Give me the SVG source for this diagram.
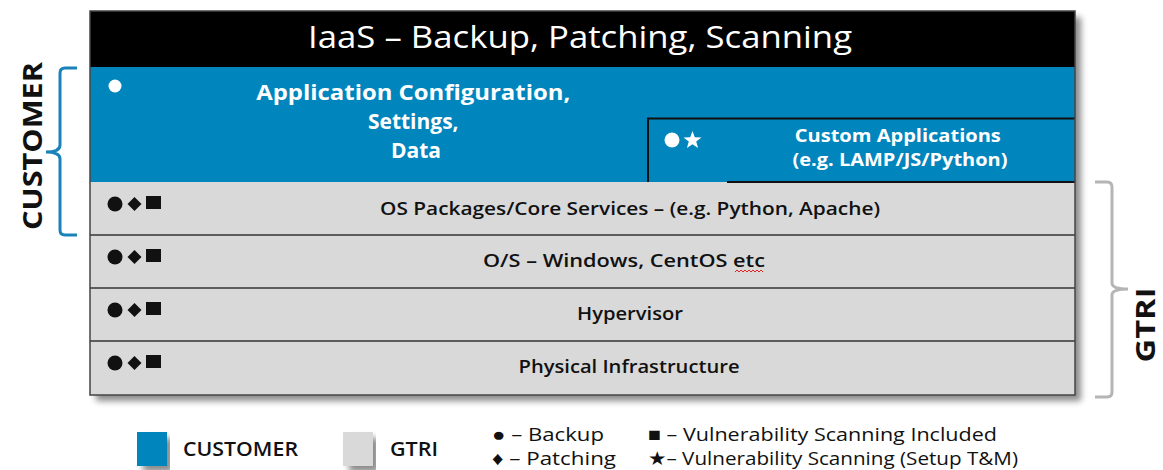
<svg xmlns="http://www.w3.org/2000/svg" width="1163" height="470" viewBox="0 0 1163 470">
<defs>
<filter id="sh" x="-5%" y="-5%" width="115%" height="120%">
<feDropShadow dx="6" dy="6" stdDeviation="3" flood-color="#000" flood-opacity="0.45"/>
</filter>
<style>
.t{font-family:"Open Sans","Liberation Sans",sans-serif;}
.w{fill:#fff;}
.k{fill:#111;}
.sep{stroke:#333;stroke-width:1.5;}
.sym{fill:#111;}
</style>
</defs>
<rect width="1163" height="470" fill="#fff"/>

<g id="stack">
<rect x="90" y="11" width="985" height="384" fill="#d9d9d9" filter="url(#sh)"/>
<rect x="90" y="11" width="985" height="56" fill="#000"/>
<rect x="90" y="67" width="985" height="115" fill="#0085bd"/>
</g>

<g id="header">
<text class="t w" x="580" y="48" font-size="31" font-weight="500" text-anchor="middle" textLength="544" lengthAdjust="spacingAndGlyphs">IaaS – Backup, Patching, Scanning</text>
</g>

<g id="app-config">
<circle cx="115" cy="86" r="6.5" fill="#fff"/>
<text class="t w" font-size="21" font-weight="700" text-anchor="middle">
<tspan x="416" y="100" textLength="314" lengthAdjust="spacingAndGlyphs">Application Configuration,</tspan>
<tspan x="416" y="129">Settings,</tspan>
<tspan x="416" y="158">Data</tspan>
</text>
</g>

<g id="custom-apps">
<path d="M648,182 V118.5 H1075" fill="none" stroke="#111" stroke-width="2"/>
<line x1="727" y1="182" x2="1075" y2="182" stroke="#111" stroke-width="2"/>
<circle cx="672" cy="140" r="7.5" fill="#fff"/>
<polygon points="692.5,131 694.8,137.3 701.5,137.5 696.2,141.6 698.1,148 692.5,144.2 686.9,148 688.8,141.6 683.5,137.5 690.2,137.3" fill="#fff"/>
<text class="t w" font-size="17" font-weight="700" text-anchor="middle">
<tspan x="900" y="142" textLength="206" lengthAdjust="spacingAndGlyphs">Custom Applications</tspan>
<tspan x="900" y="166" textLength="215" lengthAdjust="spacingAndGlyphs">(e.g. LAMP/JS/Python)</tspan>
</text>
</g>

<g id="os-packages">
<circle cx="115" cy="204" r="7.5" class="sym"/>
<path d="M134.5,197 L141.5,204 L134.5,211 L127.5,204 Z" class="sym"/>
<rect x="146" y="196" width="15" height="13" class="sym"/>
<text class="t k" x="630" y="215" font-size="18" font-weight="600" text-anchor="middle" textLength="500" lengthAdjust="spacingAndGlyphs">OS Packages/Core Services – (e.g. Python, Apache)</text>
</g>
<g id="os">
<circle cx="115" cy="257" r="7.5" class="sym"/>
<path d="M134.5,250 L141.5,257 L134.5,264 L127.5,257 Z" class="sym"/>
<rect x="146" y="249" width="15" height="13" class="sym"/>
<text class="t k" x="624" y="267" font-size="18" font-weight="600" text-anchor="middle" textLength="282" lengthAdjust="spacingAndGlyphs">O/S – Windows, CentOS etc</text>
<path d="M735,272 l2,-2 l2,2 l2,-2 l2,2 l2,-2 l2,2 l2,-2 l2,2 l2,-2 l2,2 l2,-2 l2,2 l2,-2 l2,2" fill="none" stroke="#d22" stroke-width="1"/>
</g>
<g id="hypervisor">
<circle cx="115" cy="310" r="7.5" class="sym"/>
<path d="M134.5,303 L141.5,310 L134.5,317 L127.5,310 Z" class="sym"/>
<rect x="146" y="302" width="15" height="13" class="sym"/>
<text class="t k" x="630" y="320" font-size="18" font-weight="600" text-anchor="middle" textLength="106" lengthAdjust="spacingAndGlyphs">Hypervisor</text>
</g>
<g id="physical">
<circle cx="115" cy="363" r="7.5" class="sym"/>
<path d="M134.5,356 L141.5,363 L134.5,370 L127.5,363 Z" class="sym"/>
<rect x="146" y="355" width="15" height="13" class="sym"/>
<text class="t k" x="629" y="373" font-size="18" font-weight="600" text-anchor="middle" textLength="221" lengthAdjust="spacingAndGlyphs">Physical Infrastructure</text>
</g>

<g id="lines">
<line x1="90" y1="235" x2="1075" y2="235" class="sep"/>
<line x1="90" y1="288" x2="1075" y2="288" class="sep"/>
<line x1="90" y1="341" x2="1075" y2="341" class="sep"/>
<rect x="90" y="11" width="985" height="384" fill="none" stroke="#444" stroke-width="1.5"/>
</g>

<g id="connectors">
<path d="M77,68 H65 Q60,68 60,73 V145 Q60,152 46,152 Q60,152 60,159 V230 Q60,235 65,235 H77" fill="none" stroke="#1a82b8" stroke-width="3"/>
<path d="M1095,182 H1107 Q1112,182 1112,187 V283 Q1112,289 1128,289 Q1112,289 1112,295 V392 Q1112,397 1107,397 H1095" fill="none" stroke="#b5b5b5" stroke-width="3"/>
</g>

<g id="customer-label">
<text class="t k" transform="translate(42,146) rotate(-90)" font-size="27" font-weight="700" text-anchor="middle" textLength="168" lengthAdjust="spacingAndGlyphs">CUSTOMER</text>
</g>
<g id="gtri-label">
<text class="t k" transform="translate(1155,325) rotate(-90)" font-size="26" font-weight="700" text-anchor="middle" textLength="75" lengthAdjust="spacingAndGlyphs">GTRI</text>
</g>

<g id="legend">
<rect x="137" y="432" width="30" height="34" fill="#0085bd" filter="url(#sh)"/>
<text class="t k" x="183" y="456" font-size="19" font-weight="600" textLength="115" lengthAdjust="spacingAndGlyphs">CUSTOMER</text>
<rect x="343" y="432" width="30" height="34" fill="#d9d9d9" filter="url(#sh)"/>
<text class="t k" x="390" y="456" font-size="19" font-weight="600" textLength="48" lengthAdjust="spacingAndGlyphs">GTRI</text>
<text class="t k" x="492" y="441" font-size="19" textLength="112" lengthAdjust="spacingAndGlyphs">● – Backup</text>
<text class="t k" x="492" y="465" font-size="19" textLength="124" lengthAdjust="spacingAndGlyphs">♦ – Patching</text>
<text class="t k" x="648" y="441" font-size="19" textLength="349" lengthAdjust="spacingAndGlyphs">■ – Vulnerability Scanning Included</text>
<text class="t k" x="648" y="465" font-size="19" textLength="370" lengthAdjust="spacingAndGlyphs">★– Vulnerability Scanning (Setup T&amp;M)</text>
</g>
</svg>
